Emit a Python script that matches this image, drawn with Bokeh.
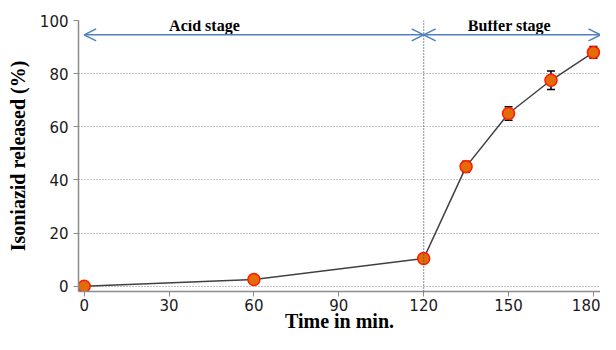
from bokeh.plotting import figure
from bokeh.models import (ColumnDataSource, Arrow, OpenHead, Whisker, TeeHead,
                          Span, FixedTicker, Range1d)
from bokeh.core.properties import value
from bokeh.embed import file_html
from bokeh.resources import INLINE

# data
time_min = [0, 60, 120, 135, 150, 165, 180]
released = [0, 2.5, 10.4, 45.0, 65.0, 77.5, 88.0]
err = [0, 0, 0, 2.0, 2.5, 3.5, 2.2]
x_ticks = [0, 30, 60, 90, 120, 150, 180]
y_ticks = [0, 20, 40, 60, 80, 100]
stage_labels = ["Acid stage", "Buffer stage"]
stage_label_x = [42.5, 150.3]
stage_start = [0, 120]
stage_end = [120, 182.5]

SERIF = "Liberation Serif"
SANS = "DejaVu Sans"
BLUE = "#4f81bd"

p = figure(width=600, height=334, output_backend="svg", toolbar_location=None,
           x_range=Range1d(-2, 182.5), y_range=Range1d(-2, 100),
           min_border_left=78, min_border_right=0, min_border_top=20,
           min_border_bottom=20)
p.outline_line_color = None
p.background_fill_color = "white"

# grid
p.xgrid.grid_line_color = None
p.ygrid.grid_line_color = "#8a8a8a"
p.ygrid.grid_line_dash = "1 2"
p.ygrid.grid_line_width = 1
p.ygrid.ticker = FixedTicker(ticks=y_ticks)

# axes
for ax in (p.xaxis[0], p.yaxis[0]):
    ax.axis_line_color = "#8c8c8c"
    ax.axis_line_width = 1.5
    ax.major_tick_line_color = "#8c8c8c"
    ax.major_tick_in = 0
    ax.major_tick_out = 5
    ax.minor_tick_line_color = None
    ax.major_label_text_font = SANS
    ax.major_label_text_font_size = "15px"
    ax.major_label_text_color = "#1a1a1a"
    ax.axis_label_text_font = SERIF
    ax.axis_label_text_font_style = "bold"
    ax.axis_label_text_font_size = "20px"
    ax.axis_label_text_color = "black"

p.xaxis.ticker = FixedTicker(ticks=x_ticks)
p.yaxis.ticker = FixedTicker(ticks=y_ticks)
p.xaxis.axis_label = "Time in min."
p.yaxis.axis_label = "Isoniazid released (%)"
p.xaxis.axis_label_standoff = -4
p.yaxis.axis_label_standoff = 8
p.xaxis.major_label_standoff = 2

# stage divider
p.add_layout(Span(location=120, dimension="height", line_color="#404040",
                  line_dash="1 2", line_width=1.2))

# stage arrows
for xs, xe in zip(stage_start, stage_end):
    p.add_layout(Arrow(
        start=OpenHead(size=12, line_color=BLUE, line_width=1.5),
        end=OpenHead(size=12, line_color=BLUE, line_width=1.5),
        x_start=xs, y_start=94.6, x_end=xe, y_end=94.6,
        line_color=BLUE, line_width=1.5))

p.text(x=stage_label_x, y=[98.2, 98.2], text=stage_labels,
       text_font=value(SERIF), text_font_style="bold", text_font_size="16px",
       text_align="center", text_baseline="middle", text_color="black")

# error bars
ex = [t for t, e in zip(time_min, err) if e > 0]
ey = [r for r, e in zip(released, err) if e > 0]
ee = [e for e in err if e > 0]
esrc = ColumnDataSource(dict(x=ex, upper=[a + b for a, b in zip(ey, ee)],
                             lower=[a - b for a, b in zip(ey, ee)]))
p.add_layout(Whisker(source=esrc, base="x", upper="upper", lower="lower",
                     line_color="black", line_width=1.5,
                     upper_head=TeeHead(size=8, line_color="black", line_width=1.5),
                     lower_head=TeeHead(size=8, line_color="black", line_width=1.5)))

# data line and markers
src = ColumnDataSource(dict(x=time_min, y=released))
p.line("x", "y", source=src, line_color="#404040", line_width=1.5)
p.scatter("x", "y", source=src, size=12, fill_color="#e36c09",
          line_color="#ff1a00", line_width=1.5)

open("out.html", "w").write(file_html(p, INLINE))
